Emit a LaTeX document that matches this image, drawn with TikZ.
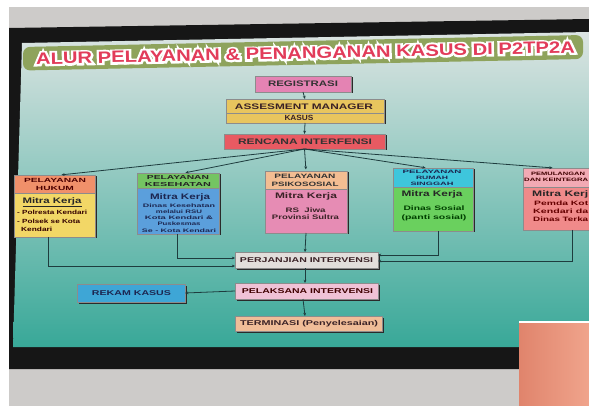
\documentclass[tikz,border=0pt]{standalone}
\usepackage{fontspec}
\usepackage{graphicx}
\setmainfont{Liberation Sans}
\usetikzlibrary{arrows.meta,calc,shadows}
\newcommand\fsz[2]{\fontsize{#1}{#2}\selectfont}
\newcommand\stretchw[2]{\resizebox{#1pt}{\height}{#2}}
\definecolor{wallc}{HTML}{CDCBC9}
\definecolor{framec}{HTML}{161616}
\definecolor{bantop}{HTML}{DCE4E2}
\definecolor{banmid}{HTML}{9DD3CB}
\definecolor{banbot}{HTML}{38A898}
\definecolor{tbarc}{HTML}{8EA35C}
\definecolor{titlec}{HTML}{E23C5A}
\definecolor{linec}{HTML}{1E3C3E}
\definecolor{shadowc}{HTML}{2A2A2A}
\definecolor{txtc}{HTML}{3A2226}
\definecolor{navyc}{HTML}{1C2650}
\definecolor{regc}{HTML}{E483B3}
\definecolor{assc}{HTML}{E8C55E}
\definecolor{renc}{HTML}{E85A62}
\definecolor{hukHc}{HTML}{F0906A}
\definecolor{hukBc}{HTML}{F2D766}
\definecolor{kesHc}{HTML}{74C462}
\definecolor{kesBc}{HTML}{5B9FDC}
\definecolor{psiHc}{HTML}{F3BD92}
\definecolor{psiBc}{HTML}{E68CB4}
\definecolor{rumHc}{HTML}{3EC6DC}
\definecolor{rumBc}{HTML}{6AD05E}
\definecolor{pemHc}{HTML}{F2AAB4}
\definecolor{pemBc}{HTML}{F08A8A}
\definecolor{perjc}{HTML}{E2DEDB}
\definecolor{pelakc}{HTML}{F0C2D6}
\definecolor{rekamc}{HTML}{3EA6D6}
\definecolor{termc}{HTML}{F0BD98}
\definecolor{clothL}{HTML}{E0846C}
\definecolor{clothR}{HTML}{F0A48C}
\newcommand\titletext{\resizebox{539pt}{11.5pt}{ALUR PELAYANAN \& PENANGANAN KASUS DI P2TP2A}}
\begin{document}
\begin{tikzpicture}[x=1pt,y=-1pt,
  bx/.style={rectangle, inner sep=0pt, outer sep=0pt, anchor=north west,
    draw=black!45, line width=0.3pt,
    drop shadow={shadow xshift=1.5pt, shadow yshift=-1.5pt, fill=shadowc, opacity=1}},
  txt/.style={inner sep=0pt, text=txtc, align=center},
  arr/.style={draw=linec, line width=0.8pt, -{Stealth[length=3.2pt,width=2.8pt]}},
  titlet/.style={inner sep=0pt, font=\bfseries, rotate=1.25}]
\useasboundingbox (0,0) rectangle (589,406);
% background: wall, frame, banner
\fill[white] (0,0) rectangle (589,406);
\fill[wallc] (9,7) rectangle (589,406);
\fill[framec] (9,28) -- (589,19) -- (589,369) -- (9,369) -- cycle;
\shade[top color=bantop, middle color=banmid, bottom color=banbot]
  (22,43) -- (589,32) -- (589,347) -- (13,347) -- cycle;
% title bar
\fill[tbarc, rounded corners=7pt] (23,47) -- (583,35) -- (583,59) -- (23,70.5) -- cycle;
\node[titlet, text=white] (titleW) at (305.5,53)
  {\special{pdf:literal direct 2 Tr 2.4 w}\titletext\special{pdf:literal direct 0 Tr 0.4 w}};
\node[titlet, text=titlec] (title) at (305.5,53) {\titletext};
% top chain
\node[bx, fill=regc, minimum width=96pt, minimum height=16pt] (reg) at (255,76) {};
\node[txt, text=black!80, font={\bfseries\fsz{8}{9}}] (regT) at (303,84) {\stretchw{70}{REGISTRASI}};
\node[bx, fill=assc, minimum width=158pt, minimum height=14pt] (assA) at (226,99) {};
\node[bx, fill=assc, minimum width=158pt, minimum height=10pt] (assB) at (226,113) {};
\node[txt, font={\bfseries\fsz{8}{9}}] (assAT) at (304,107) {\stretchw{138}{ASSESMENT MANAGER}};
\node[txt, font={\bfseries\fsz{7.5}{9}}] (assBT) at (299,118) {\stretchw{29}{KASUS}};
\node[bx, fill=renc, minimum width=161pt, minimum height=15pt] (ren) at (224,134) {};
\node[txt, text=black!80, font={\bfseries\fsz{8}{9}}] (renT) at (305,141.5) {\stretchw{134}{RENCANA INTERFENSI}};
\draw[arr] (reg.south) -- (assA.north);
\draw[arr] (assB.south) -- (ren.north);
% row of services: headers and bodies
\node[bx, fill=hukHc, minimum width=81pt, minimum height=18pt] (hukH) at (14,175) {};
\node[bx, fill=hukBc, minimum width=81pt, minimum height=44pt] (hukB) at (14,193) {};
\node[bx, fill=kesHc, minimum width=82pt, minimum height=15pt] (kesH) at (137,173) {};
\node[bx, fill=kesBc, minimum width=82pt, minimum height=46pt] (kesB) at (137,188) {};
\node[bx, fill=psiHc, minimum width=82pt, minimum height=18pt] (psiH) at (265,171) {};
\node[bx, fill=psiBc, minimum width=82pt, minimum height=44pt] (psiB) at (265,189) {};
\node[bx, fill=rumHc, minimum width=80pt, minimum height=19pt] (rumH) at (393,168) {};
\node[bx, fill=rumBc, minimum width=80pt, minimum height=44pt] (rumB) at (393,187) {};
\node[bx, fill=pemHc, minimum width=78pt, minimum height=19pt] (pemH) at (523,168) {};
\node[bx, fill=pemBc, minimum width=78pt, minimum height=43pt] (pemB) at (523,187) {};
% header texts
\node[txt, text=black!70!red, font={\bfseries\fsz{6}{8}}] (hukHT) at (55,184)
  {\stretchw{62}{PELAYANAN}\\\stretchw{38}{HUKUM}};
\node[txt, text=black!85, font={\bfseries\fsz{5.8}{7}}] (kesHT) at (178,181)
  {\stretchw{62}{PELAYANAN}\\\stretchw{66}{KESEHATAN}};
\node[txt, text=black!80, font={\bfseries\fsz{6.3}{8}}] (psiHT) at (305,180)
  {\stretchw{61}{PELAYANAN}\\\stretchw{67}{PSIKOSOSIAL}};
\node[txt, text=navyc, font={\bfseries\fsz{4.8}{6}}] (rumHT) at (432,177.5)
  {\stretchw{59}{PELAYANAN}\\\stretchw{32}{RUMAH}\\\stretchw{43}{SINGGAH}};
\node[txt, text=black!75!red, font={\bfseries\fsz{4.8}{5.5}}] (pemHT1) at (558,174) {\stretchw{54}{PEMULANGAN}};
\node[txt, anchor=west, text=black!75!red, font={\bfseries\fsz{4.8}{5.5}}] (pemHT2) at (524,179.5) {\stretchw{64}{DAN KEINTEGRA}};
% body texts
\node[txt, text=black!85, font={\bfseries\fsz{8}{9}}] (hukM) at (52,202) {\stretchw{59}{\underline{Mitra Kerja}}};
\node[txt, anchor=west, text=black!80!red, font={\bfseries\fsz{6}{7}}] (hukL1) at (17,212) {\stretchw{70}{- Polresta Kendari}};
\node[txt, anchor=west, text=black!80!red, font={\bfseries\fsz{6}{7}}] (hukL2) at (17,221.5) {\stretchw{63}{- Polsek se Kota}};
\node[txt, anchor=west, text=black!80!red, font={\bfseries\fsz{6}{7}}] (hukL3) at (21,229) {\stretchw{31}{Kendari}};
\node[txt, text=navyc, font={\bfseries\fsz{8}{9}}] (kesM) at (180,197) {\stretchw{60}{Mitra Kerja}};
\node[txt, text=navyc, font={\bfseries\fsz{5}{6.2}}] (kesL) at (179,218)
  {\stretchw{72}{Dinas Kesehatan}\\\stretchw{46}{melalui RSU}\\\stretchw{68}{Kota Kendari \&}\\\stretchw{43}{Puskesmas}\\\stretchw{74}{Se - Kota Kendari}};
\node[txt, font={\bfseries\fsz{8}{9}}] (psiM) at (306,196) {\stretchw{62}{Mitra Kerja}};
\node[txt, font={\bfseries\fsz{6.5}{7.5}}] (psiL) at (305.5,213.5)
  {\stretchw{40}{RS\ \ Jiwa}\\\stretchw{67}{Provinsi Sultra}};
\node[txt, text=black!85, font={\bfseries\fsz{8}{9}}] (rumM) at (432,194) {\stretchw{61}{Mitra Kerja}};
\node[txt, text=black!75!green, font={\bfseries\fsz{6.5}{9}}] (rumL) at (434,213.5)
  {\stretchw{61}{Dinas Sosial}\\\stretchw{65}{(panti sosial)}};
\node[txt, anchor=west, text=black!85, font={\bfseries\fsz{8}{9}}] (pemM) at (532,194) {\stretchw{56}{Mitra Kerj}};
\node[txt, anchor=west, text=black!60!red, font={\bfseries\fsz{6.3}{8}}] (pemL1) at (534,203) {\stretchw{54}{Pemda Kot}};
\node[txt, anchor=west, text=black!60!red, font={\bfseries\fsz{6.3}{8}}] (pemL2) at (533,211) {\stretchw{55}{Kendari da}};
\node[txt, anchor=west, text=black!60!red, font={\bfseries\fsz{6.3}{8}}] (pemL3) at (533,219) {\stretchw{55}{Dinas Terka}};
% fan of connectors
\draw[arr, shorten >=1.5pt] (ren.south) -- ([xshift=5.5pt]hukH.north);
\draw[arr, shorten >=1.5pt] (ren.south) -- ([xshift=6pt]kesH.north);
\draw[arr, shorten >=1.5pt] (ren.south) -- (psiH.north);
\draw[arr, shorten >=1.5pt] (ren.south) -- ([xshift=-6pt]rumH.north);
\draw[arr, shorten >=1.5pt] (ren.south) -- ([xshift=-8pt]pemH.north);
% lower chain
\node[bx, fill=perjc, minimum width=143pt, minimum height=16pt] (perj) at (235,252) {};
\node[txt, font={\bfseries\fsz{7}{8}}] (perjT) at (306.5,260) {\stretchw{133}{PERJANJIAN INTERVENSI}};
\node[bx, fill=pelakc, minimum width=143pt, minimum height=16pt] (pelak) at (235,283) {};
\node[txt, text=black!75!red, font={\bfseries\fsz{7}{8}}] (pelakT) at (307.5,291) {\stretchw{131}{PELAKSANA INTERVENSI}};
\node[bx, fill=rekamc, minimum width=108pt, minimum height=18pt] (rekam) at (77,284) {};
\node[txt, text=navyc, font={\bfseries\fsz{7}{8}}] (rekamT) at (131.5,293) {\stretchw{79}{REKAM KASUS}};
\node[bx, fill=termc, minimum width=147pt, minimum height=15pt] (term) at (235,316) {};
\node[txt, font={\bfseries\fsz{7}{8}}] (termT) at (309,323.5) {\stretchw{138}{TERMINASI (Penyelesaian)}};
\draw[arr] ([xshift=-6.5pt]hukB.south) |- ([yshift=-6pt]perj.west);
\draw[arr] ([xshift=-1pt]kesB.south) |- ([yshift=2pt]perj.west);
\draw[arr] (psiB.south) -- ([xshift=-1.5pt]perj.north);
\draw[arr] ([xshift=5pt]rumB.south) |- ([yshift=5pt]perj.east);
\draw[arr] ([xshift=10pt]pemB.south) |- ([yshift=-1pt]perj.east);
\draw[arr] ([xshift=-1.5pt]perj.south) -- ([xshift=-1.5pt]pelak.north);
\draw[arr] (pelak.west) -- (rekam.east);
\draw[arr] ([xshift=-3.5pt]pelak.south) -- ([xshift=-3.5pt]term.north);
% cloth in front, lower right
\shade[left color=clothL, right color=clothR] (519,322) rectangle (589,406);
\draw[white, line width=1.2pt] (519,322) -- (589,322);
\end{tikzpicture}
\end{document}
